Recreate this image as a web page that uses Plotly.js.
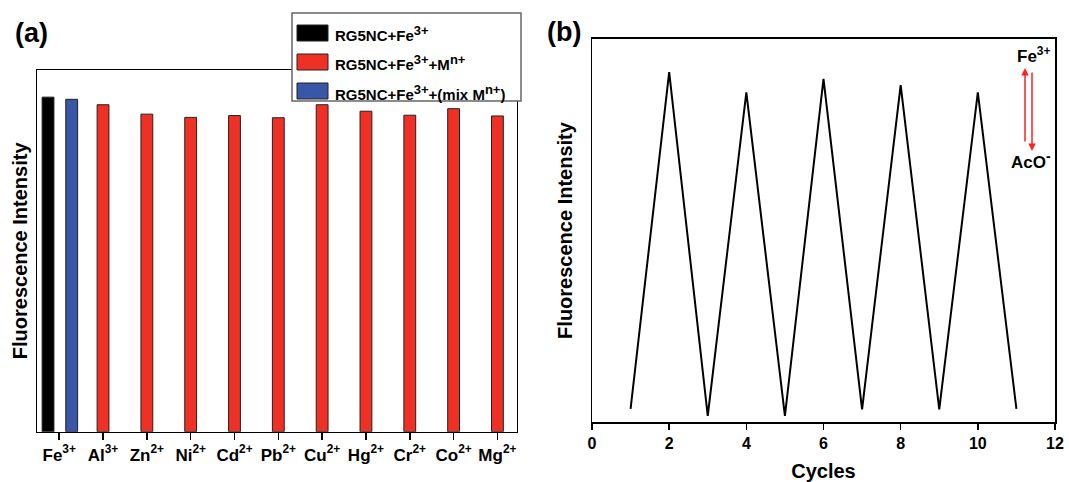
<!DOCTYPE html>
<html><head><meta charset="utf-8">
<script src="https://cdn.plot.ly/plotly-3.0.1.min.js"></script>
<style>html,body{margin:0;padding:0;background:#fff}#chart{width:1069px;height:482px}</style>
</head><body><div id="chart"></div>
<script>
// ---- Panel (a) data ----
const ionKeys = ['Fe','Al','Zn','Ni','Cd','Pb','Cu','Hg','Cr','Co','Mg'];
const ionLabels = ['Fe<sup>3+</sup>','Al<sup>3+</sup>','Zn<sup>2+</sup>','Ni<sup>2+</sup>','Cd<sup>2+</sup>','Pb<sup>2+</sup>','Cu<sup>2+</sup>','Hg<sup>2+</sup>','Cr<sup>2+</sup>','Co<sup>2+</sup>','Mg<sup>2+</sup>'];
const feOnlyX = ['Fe'];
const feOnlyY = [92.5];
const mixX = ['Fe'];
const mixY = [91.9];
const metalX = ['Al','Zn','Ni','Cd','Pb','Cu','Hg','Cr','Co','Mg'];
const metalY = [90.4, 87.8, 86.9, 87.4, 86.8, 90.4, 88.6, 87.5, 89.3, 87.3];
const seriesNames = ['RG5NC+Fe<sup>3+</sup>','RG5NC+Fe<sup>3+</sup>+M<sup>n+</sup>','RG5NC+Fe<sup>3+</sup>+(mix M<sup>n+</sup>)'];
const seriesColors = ['#000000','#EE3124','#3A56A6'];

// ---- Panel (b) data ----
const cycles = [1,2,3,4,5,6,7,8,9,10,11];
const intensity = [3.5, 91.3, 1.7, 86.0, 1.7, 89.5, 3.4, 87.9, 3.4, 86.0, 3.5];

const W = 1069, H = 482;
const px = x => x / W;
const py = y => 1 - y / H;
const FONT = 'Liberation Sans, Arial, Helvetica, sans-serif';
const bigSup = (s, size) => s.replace(/<sup>(.*?)<\/sup>/g, '<sup><span style="font-size:' + size + 'px">$1</span></sup>');

const barW = 0.27;
const traces = [
  {type:'bar', x: feOnlyX, y: feOnlyY, name: seriesNames[0], width: barW, offset: -0.39,
   marker:{color: seriesColors[0], line:{color:'#222', width:1}}, xaxis:'x', yaxis:'y', showlegend:false},
  {type:'bar', x: mixX, y: mixY, name: seriesNames[2], width: barW, offset: 0.15,
   marker:{color: seriesColors[2], line:{color:'#222', width:1}}, xaxis:'x', yaxis:'y', showlegend:false},
  {type:'bar', x: metalX, y: metalY, name: seriesNames[1], width: barW,
   marker:{color: seriesColors[1], line:{color:'#222', width:1}}, xaxis:'x', yaxis:'y', showlegend:false},
  {type:'scatter', mode:'lines', x: cycles, y: intensity, line:{color:'#000', width:2},
   xaxis:'x2', yaxis:'y2', showlegend:false}
];

// legend drawn as shapes + annotations
const legendBox = {x0:292, x1:521, y0:13, y1:101};
const legendRows = [33, 62, 91];
const legendOrder = [0,1,2];
const shapes = [
  {type:'rect', xref:'paper', yref:'paper', x0:px(legendBox.x0), x1:px(legendBox.x1), y0:py(legendBox.y1), y1:py(legendBox.y0),
   fillcolor:'#fff', line:{color:'#666', width:1.5}, layer:'above'}
];
const txt = (x, y, text, size, xa) => ({xref:'paper', yref:'paper', x:px(x), y:py(y), xanchor: xa || 'center', yanchor:'middle',
  text: text, showarrow:false, font:{family:FONT, size:size, color:'#000'}});
const annotations = [
  txt(31, 33, '<b>(a)</b>', 27),
  txt(564, 32, '<b>(b)</b>', 27),
  txt(1034, 55, '<b>' + bigSup('Fe<sup>3+</sup>', 12) + '</b>', 17),
  txt(1031, 160, '<b>' + bigSup('AcO<sup>-</sup>', 14) + '</b>', 17),
  {xref:'paper', yref:'paper', x:px(1025), y:py(68), ax:0, ay:75, text:'', showarrow:true, arrowhead:2, arrowsize:1, arrowwidth:1.5, arrowcolor:'#ff2020'},
  {xref:'paper', yref:'paper', x:px(1032), y:py(151), ax:0, ay:-80, text:'', showarrow:true, arrowhead:2, arrowsize:1, arrowwidth:1.5, arrowcolor:'#ff2020'}
];
legendOrder.forEach((si, i) => {
  const yc = legendRows[i];
  shapes.push({type:'rect', xref:'paper', yref:'paper', x0:px(297), x1:px(328), y0:py(yc+8), y1:py(yc-8),
    fillcolor: seriesColors[si], line:{color:'#222', width:1}, layer:'above'});
  annotations.push(txt(333, yc + 1, '<b>' + bigSup(seriesNames[si], 13) + '</b>', 15, 'left'));
});

const layout = {
  width: W, height: H,
  margin:{l:0, r:0, t:0, b:0},
  paper_bgcolor:'#fff', plot_bgcolor:'#fff',
  barmode:'overlay',
  font:{family:FONT, color:'#000'},
  xaxis:{domain:[px(37.3), px(516.7)], anchor:'y', type:'category', categoryorder:'array', categoryarray: ionKeys,
    range:[-0.5, 10.44], tickmode:'array', tickvals: ionKeys, ticktext: ionLabels.map(t => '<b>' + t + '</b>'),
    ticks:'outside', ticklen:7, tickwidth:1.5, tickcolor:'#000', showline:true, mirror:true, linewidth:1.5, linecolor:'#000',
    showgrid:false, zeroline:false, tickfont:{family:FONT, size:17, color:'#000'}},
  yaxis:{domain:[1-431.7/H, 1-70/H], anchor:'x', range:[0,100], showline:true, mirror:true, linewidth:1.5, linecolor:'#000',
    showticklabels:false, ticks:'', showgrid:false, zeroline:false,
    title:{text:'<b>Fluorescence Intensity</b>', font:{family:FONT, size:20, color:'#000'}, standoff:3}},
  xaxis2:{domain:[px(592), px(1055)], anchor:'y2', range:[0,12], dtick:2, tick0:0,
    ticks:'outside', ticklen:6, tickwidth:1.5, tickcolor:'#000', showline:true, mirror:true, linewidth:1.5, linecolor:'#000',
    showgrid:false, zeroline:false, tickfont:{family:FONT, size:16, color:'#000'}, tickprefix:'<b>', ticksuffix:'</b>',
    title:{text:'<b>Cycles</b>', font:{family:FONT, size:20, color:'#000'}, standoff:14}},
  yaxis2:{domain:[1-422.3/H, 1-38.7/H], anchor:'x2', range:[0,100], showline:true, mirror:true, linewidth:1.5, linecolor:'#000',
    showticklabels:false, ticks:'', showgrid:false, zeroline:false,
    title:{text:'<b>Fluorescence Intensity</b>', font:{family:FONT, size:20, color:'#000'}, standoff:12}},
  shapes: shapes,
  annotations: annotations
};

Plotly.newPlot('chart', traces, layout, {displayModeBar:false, staticPlot:true});
</script></body></html>
